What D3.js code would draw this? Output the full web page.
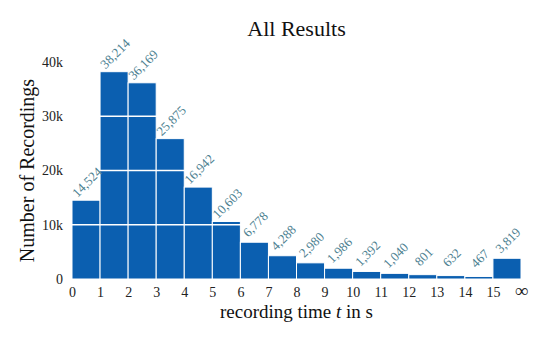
<!DOCTYPE html>
<html>
<head>
<meta charset="utf-8">
<script src="https://cdn.jsdelivr.net/npm/d3@7"></script>
<style>
  body { margin: 0; background: #fff; }
  text { font-family: "Liberation Serif", "DejaVu Serif", serif; }
  .axis path, .axis line { display: none; }
</style>
</head>
<body>
<div id="chart"></div>
<script>
// bin start (seconds), last bin is 15..inf
const bins = [0, 1, 2, 3, 4, 5, 6, 7, 8, 9, 10, 11, 12, 13, 14, 15];
const counts = [14524, 38214, 36169, 25875, 16942, 10603, 6778, 4288, 2980, 1986, 1392, 1040, 801, 632, 467, 3819];
const xTickLabels = ['0', '1', '2', '3', '4', '5', '6', '7', '8', '9', '10', '11', '12', '13', '14', '15', '\u221E'];
const yTicks = [0, 10000, 20000, 30000, 40000];
const yTickLabels = ['0', '10k', '20k', '30k', '40k'];

const width = 540, height = 340;
const margin = {top: 62, right: 19, bottom: 61, left: 72};

const svg = d3.select('#chart').append('svg')
    .attr('width', width)
    .attr('height', height);

const xScale = d3.scaleLinear()
    .domain([0, bins.length])
    .range([margin.left, width - margin.right]);

const yScale = d3.scaleLinear()
    .domain([0, 40000])
    .range([height - margin.bottom, margin.top]);

// bars
svg.append('g')
  .selectAll('rect')
  .data(counts)
  .join('rect')
    .attr('x', (d, i) => xScale(bins[i]))
    .attr('y', d => yScale(d))
    .attr('width', (d, i) => xScale(bins[i] + 1) - xScale(bins[i]))
    .attr('height', d => yScale(0) - yScale(d))
    .attr('fill', '#0b5fb0')
    .attr('stroke', '#fff')
    .attr('stroke-width', 1);

// white grid lines on top of the bars
svg.append('g')
  .selectAll('line')
  .data(yTicks.slice(1, 4))
  .join('line')
    .attr('x1', xScale(0))
    .attr('x2', xScale(bins.length))
    .attr('y1', d => yScale(d))
    .attr('y2', d => yScale(d))
    .attr('stroke', '#fff')
    .attr('stroke-width', 1.3);

// value labels, rotated
const fmt = d3.format(',');
svg.append('g')
  .selectAll('text')
  .data(counts)
  .join('text')
    .attr('transform', (d, i) => `translate(${xScale(bins[i] + 0.5) + 2},${yScale(d) - 17}) rotate(-45)`)
    .attr('text-anchor', 'middle')
    .attr('dominant-baseline', 'middle')
    .attr('font-size', 13)
    .attr('fill', '#4d8191')
    .text(d => fmt(d));

// axes
const xAxis = d3.axisBottom(xScale)
    .tickValues(d3.range(xTickLabels.length))
    .tickFormat((d, i) => xTickLabels[i])
    .tickSize(0)
    .tickPadding(8);

const xAxisG = svg.append('g')
    .attr('class', 'axis')
    .attr('transform', `translate(0,${yScale(0)})`)
    .call(xAxis);
xAxisG.selectAll('text')
    .attr('font-size', 14)
    .attr('fill', '#222');
xAxisG.selectAll('text').filter((d, i) => i === xTickLabels.length - 1)
    .attr('font-size', 19)
    .attr('dy', '0.55em');

const yAxis = d3.axisLeft(yScale)
    .tickValues(yTicks)
    .tickFormat((d, i) => yTickLabels[i])
    .tickSize(0)
    .tickPadding(9);

svg.append('g')
    .attr('class', 'axis')
    .attr('transform', `translate(${margin.left},0)`)
    .call(yAxis)
  .selectAll('text')
    .attr('font-size', 14)
    .attr('fill', '#222');

// titles
svg.append('text')
    .attr('x', xScale(bins.length / 2))
    .attr('y', 36)
    .attr('text-anchor', 'middle')
    .attr('font-size', 22)
    .attr('fill', '#111')
    .text('All Results');

svg.append('text')
    .attr('x', xScale(bins.length / 2))
    .attr('y', 318)
    .attr('text-anchor', 'middle')
    .attr('font-size', 19)
    .attr('fill', '#111')
    .html('recording time <tspan font-style="italic">t</tspan> in s');

svg.append('text')
    .attr('transform', `translate(34,${yScale(20000)}) rotate(-90)`)
    .attr('text-anchor', 'middle')
    .attr('font-size', 20)
    .attr('fill', '#111')
    .text('Number of Recordings');
</script>
</body>
</html>
